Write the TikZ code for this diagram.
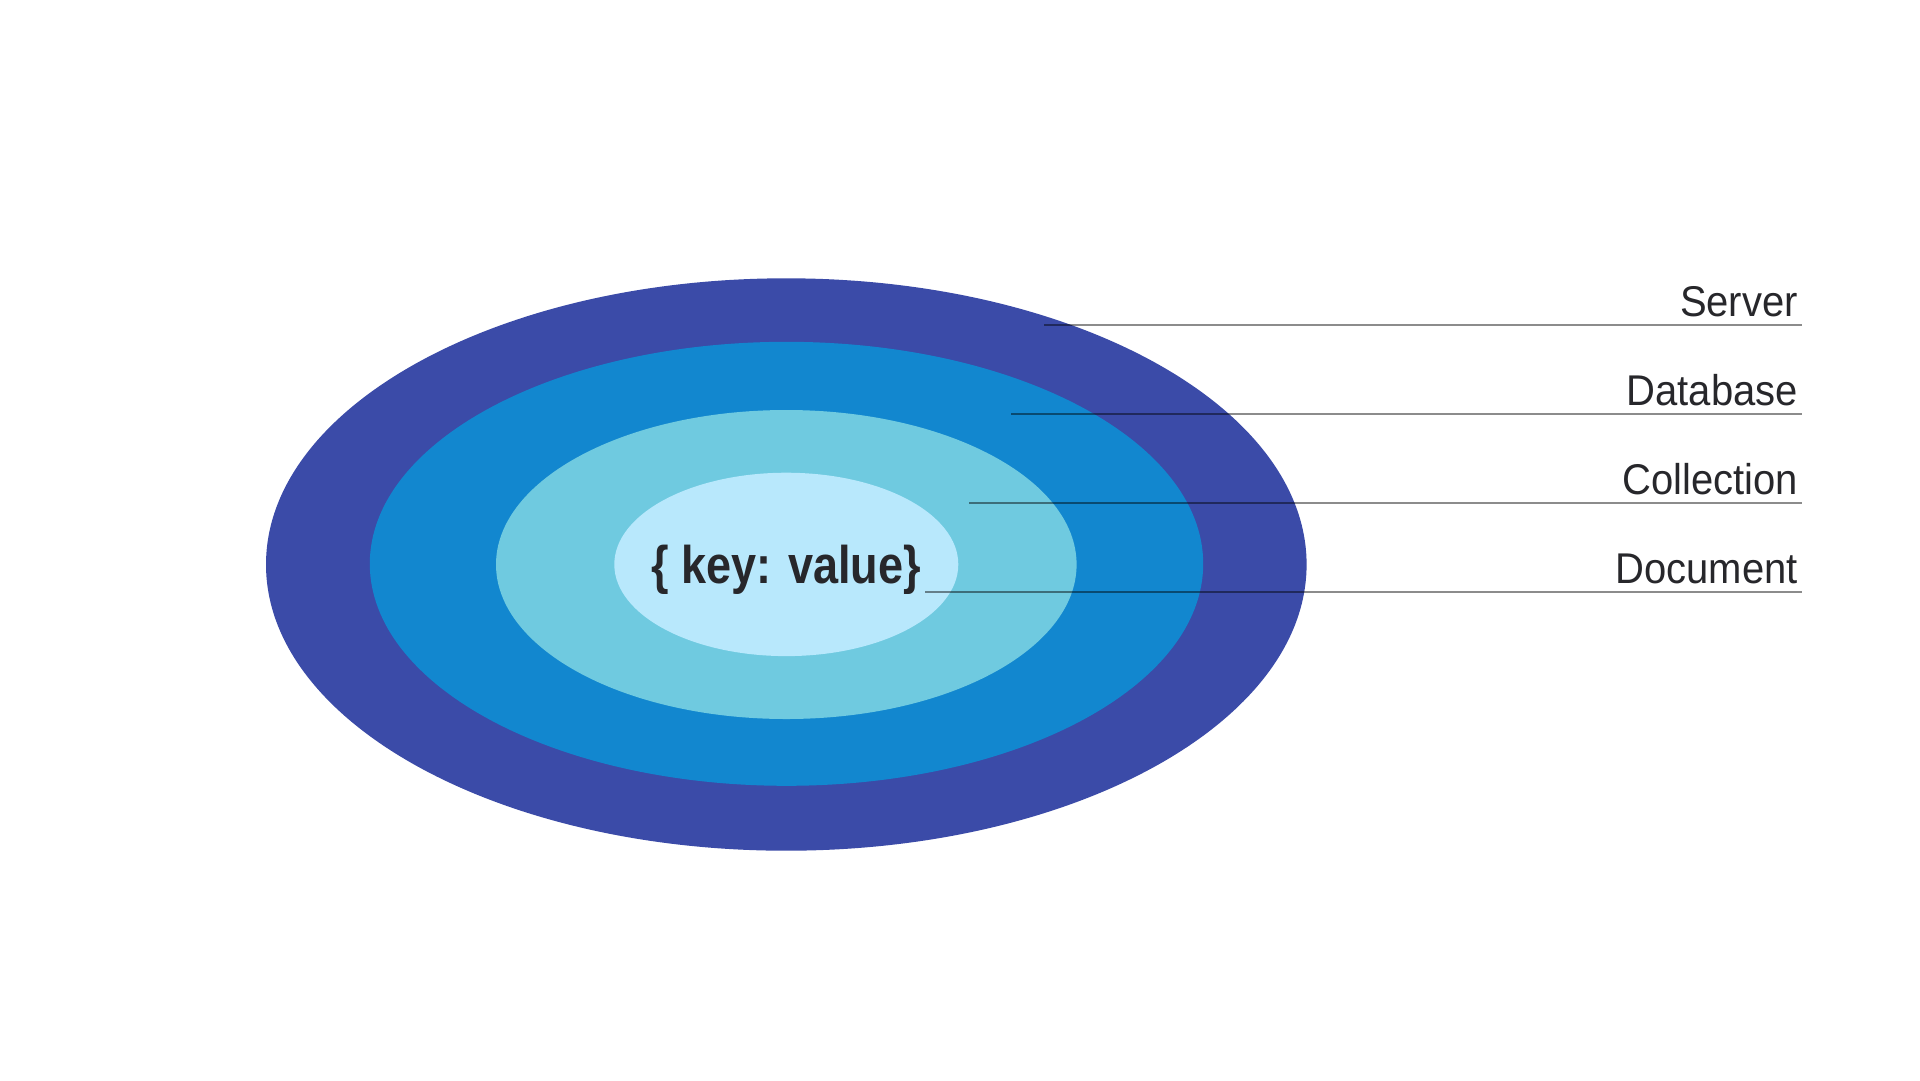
\documentclass[tikz,border=0pt]{standalone}
\usepackage{fontspec}
\setmainfont{Liberation Sans}
\definecolor{cServer}{HTML}{3B4BA8}
\definecolor{cDatabase}{HTML}{1287CF}
\definecolor{cCollection}{HTML}{6FCAE0}
\definecolor{cDocument}{HTML}{B8E8FC}
\definecolor{txt}{HTML}{27272B}
\begin{document}
\begin{tikzpicture}[x=1pt,y=-1pt,
  layer/.style={draw=none},
  lbl/.style={anchor=base east,inner sep=0pt,text=txt,font=\fontsize{43}{43}\selectfont,xscale=0.93},
  leader/.style={draw=black,draw opacity=0.45,line width=1.7pt}]
\useasboundingbox (0,0) rectangle (1920,1080);
\fill[white] (0,0) rectangle (1920,1080);
\fill[cServer] (786.3,564.5) ellipse [x radius=520.3, y radius=286.2];
\fill[cDatabase] (786.5,563.8) ellipse [x radius=416.7, y radius=222];
\fill[cCollection] (786.3,564.5) ellipse [x radius=290.3, y radius=154.5];
\fill[cDocument] (786.3,564.4) ellipse [x radius=172, y radius=91.7];
\node[anchor=base,inner sep=0pt,text=txt,font=\fontsize{53}{53}\selectfont\bfseries,xscale=0.85] (kv) at (786,583.3) {\{ key: value\}};
\node[lbl] (server) at (1798,316.7) {Server};
\node[lbl] (database) at (1798,405.7) {Database};
\node[lbl] (collection) at (1798,494.3) {Collection};
\node[lbl] (document) at (1798,583.3) {Document};
\coordinate (s0) at (1044,325);   \coordinate (s1) at (1802,325);
\coordinate (d0) at (1011,414);   \coordinate (d1) at (1802,414);
\coordinate (c0) at (969,502.7);  \coordinate (c1) at (1802,502.7);
\coordinate (m0) at (925,592);    \coordinate (m1) at (1802,592);
\draw[leader] (s0) -- (s1);
\draw[leader] (d0) -- (d1);
\draw[leader] (c0) -- (c1);
\draw[leader] (m0) -- (m1);
\end{tikzpicture}
\end{document}
